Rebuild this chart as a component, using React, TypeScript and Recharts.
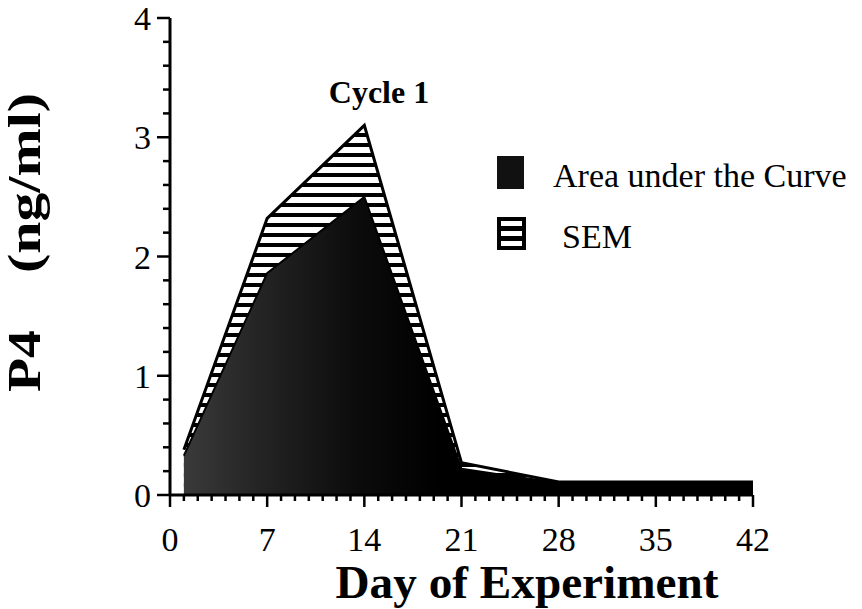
import React from 'react';
import { AreaChart, Area, XAxis, YAxis } from 'recharts';

// ---- data ----
const days = [1, 7, 14, 21, 28, 35, 42];
const meanP4 = [0.33, 1.86, 2.5, 0.22, 0.1, 0.1, 0.1];
const semUpper = [0.38, 2.32, 3.1, 0.27, 0.11, 0.11, 0.11];

const xTicks = [0, 1, 2, 3, 4, 5, 6, 7, 8, 9, 10, 11, 12, 13, 14, 15, 16, 17, 18, 19, 20, 21, 22, 23, 24, 25, 26, 27, 28, 29, 30, 31, 32, 33, 34, 35, 36, 37, 38, 39, 40, 41, 42];
const xMajorTicks = [0, 7, 14, 21, 28, 35, 42];
const yTicks = [0, 0.2, 0.4, 0.6, 0.8, 1, 1.2, 1.4, 1.6, 1.8, 2, 2.2, 2.4, 2.6, 2.8, 3, 3.2, 3.4, 3.6, 3.8, 4];
const yMajorTicks = [0, 1, 2, 3, 4];

const seriesNames = ['Area under the Curve', 'SEM'];
const chartTitle = 'Cycle 1';
const xTitle = 'Day of Experiment';
const yTitleParts = ['P4', '(ng/ml)'];

const data = days.map((d, i) => ({ day: d, mean: meanP4[i], upper: semUpper[i] }));

const SERIF = "'Liberation Serif', 'Times New Roman', Times, serif";

const XTick = (props: any) => {
  const { x, y, payload } = props;
  const v = payload.value;
  const major = xMajorTicks.includes(v);
  return (
    <g>
      <line x1={x} x2={x} y1={y} y2={y + (major ? 12 : 6)} stroke="#000" strokeWidth={2.5} />
      {major && (
        <text x={x} y={y + 56} textAnchor="middle" fontSize={34} fontFamily={SERIF} fill="#000">
          {v}
        </text>
      )}
    </g>
  );
};

const YTick = (props: any) => {
  const { x, y, payload } = props;
  const v = payload.value;
  const major = yMajorTicks.some((m) => Math.abs(m - v) < 1e-9);
  return (
    <g>
      <line x1={x} x2={x - (major ? 13 : 7)} y1={y} y2={y} stroke="#000" strokeWidth={2.5} />
      {major && (
        <text x={x - 19} y={y} dy="0.36em" textAnchor="end" fontSize={34} fontFamily={SERIF} fill="#000">
          {Math.round(v)}
        </text>
      )}
    </g>
  );
};

export default function App() {
  return (
    <div style={{ position: 'absolute', left: 0, top: 0, width: 862, height: 609, background: '#fff' }}>
      <AreaChart
        width={862}
        height={609}
        data={data}
        margin={{ top: 18, right: 109, left: 110, bottom: 54 }}
      >
        <defs>
          <pattern id="hatch" patternUnits="userSpaceOnUse" width={10} height={10}>
            <rect x={0} y={0} width={10} height={10} fill="#fff" />
            <rect x={0} y={3} width={10} height={4} fill="#000" />
          </pattern>
          <linearGradient id="stipple" x1="0" y1="0" x2="1" y2="0">
            <stop offset="0" stopColor="#3a3a3a" />
            <stop offset="0.12" stopColor="#262626" />
            <stop offset="0.3" stopColor="#0c0c0c" />
            <stop offset="0.45" stopColor="#000" />
            <stop offset="1" stopColor="#000" />
          </linearGradient>
        </defs>
        <XAxis
          dataKey="day"
          type="number"
          domain={[0, 42]}
          ticks={xTicks}
          interval={0}
          height={60}
          tickSize={0}
          tickMargin={0}
          tickLine={false}
          axisLine={{ stroke: '#000', strokeWidth: 3 }}
          tick={<XTick />}
          allowDataOverflow
        />
        <YAxis
          type="number"
          domain={[0, 4]}
          ticks={yTicks}
          interval={0}
          width={60}
          tickSize={0}
          tickMargin={0}
          tickLine={false}
          axisLine={{ stroke: '#000', strokeWidth: 3 }}
          tick={<YTick />}
          allowDataOverflow
        />
        <Area
          type="linear"
          dataKey="upper"
          name={seriesNames[1]}
          stroke="#000"
          strokeWidth={3}
          fill="url(#hatch)"
          fillOpacity={1}
          isAnimationActive={false}
          dot={false}
          activeDot={false}
        />
        <Area
          type="linear"
          dataKey="mean"
          name={seriesNames[0]}
          stroke="#000"
          strokeWidth={2}
          fill="url(#stipple)"
          fillOpacity={1}
          isAnimationActive={false}
          dot={false}
          activeDot={false}
        />
      </AreaChart>
      <svg
        width={862}
        height={609}
        style={{ position: 'absolute', left: 0, top: 0, pointerEvents: 'none' }}
      >
        <text x={379} y={103} textAnchor="middle" fontSize={32} fontWeight="bold" fontFamily={SERIF} fill="#000">
          {chartTitle}
        </text>
        <text x={527} y={598} textAnchor="middle" fontSize={47} fontWeight="bold" fontFamily={SERIF} fill="#000"
          textLength={383} lengthAdjust="spacingAndGlyphs">
          {xTitle}
        </text>
        <text transform="translate(40,361) rotate(-90)" textAnchor="middle" fontSize={46} fontWeight="bold"
          fontFamily={SERIF} fill="#000" textLength={62} lengthAdjust="spacingAndGlyphs">
          {yTitleParts[0]}
        </text>
        <text transform="translate(40,183) rotate(-90)" textAnchor="middle" fontSize={46} fontWeight="bold"
          fontFamily={SERIF} fill="#000" textLength={180} lengthAdjust="spacingAndGlyphs">
          {yTitleParts[1]}
        </text>
        {/* legend */}
        <rect x={497} y={156} width={27} height={33} fill="#111" />
        <text x={553} y={187} fontSize={34} fontFamily={SERIF} fill="#000">
          {seriesNames[0]}
        </text>
        <rect x={497} y={217} width={29} height={33} fill="#000" />
        <rect x={501} y={221} width={21} height={5} fill="#fff" />
        <rect x={501} y={231} width={21} height={5} fill="#fff" />
        <rect x={501} y={241} width={21} height={5} fill="#fff" />
        <text x={562} y={248} fontSize={34} fontFamily={SERIF} fill="#000">
          {seriesNames[1]}
        </text>
      </svg>
    </div>
  );
}
